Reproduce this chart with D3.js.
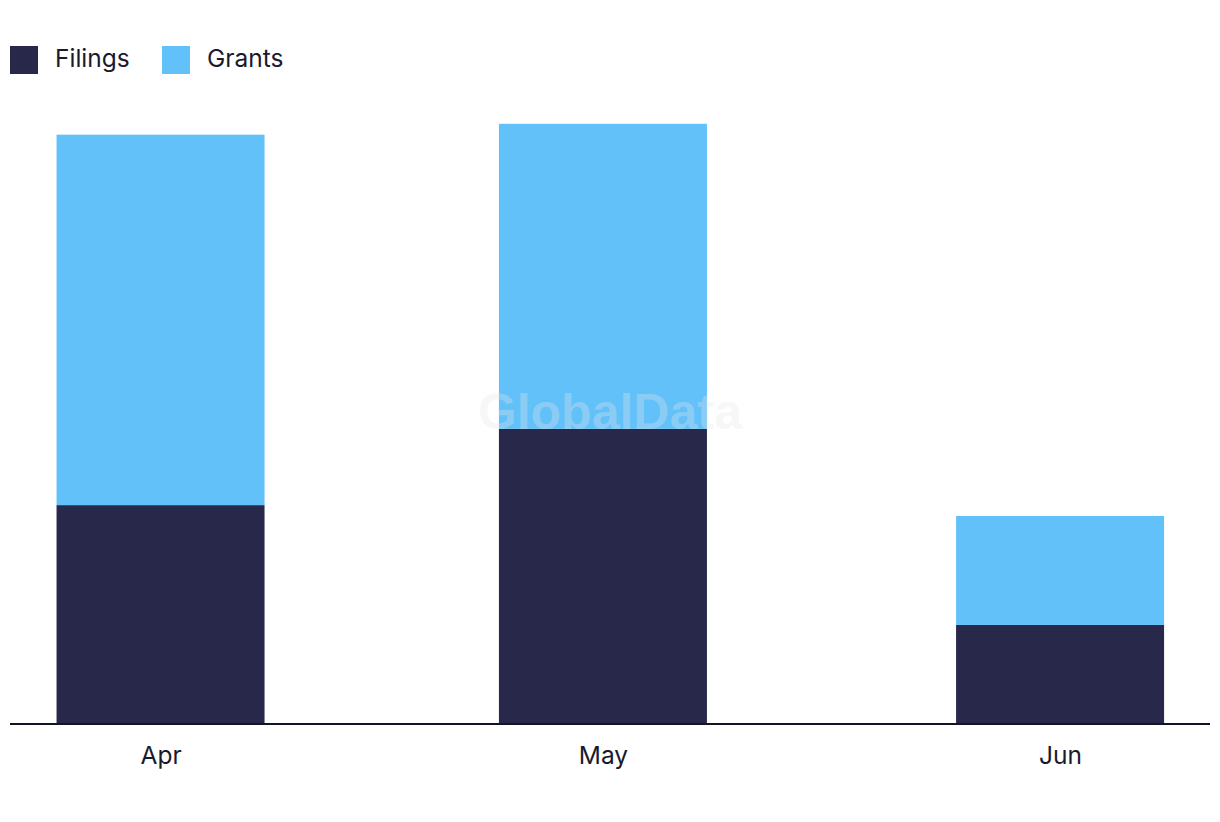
<!DOCTYPE html>
<html>
<head>
<meta charset="utf-8">
<script src="https://cdn.jsdelivr.net/npm/d3@7"></script>
<style>
  html, body { margin: 0; padding: 0; background: #fff; }
  svg { display: block; }
</style>
</head>
<body>
<svg id="chart" width="1220" height="822"></svg>
<script>
const months = ["2024-04-01", "2024-05-01", "2024-06-01"];
const monthLabels = ["Apr", "May", "Jun"];
const filings = [20, 27, 9];
const grants = [34, 28, 10];
const seriesNames = ["Filings", "Grants"];
const seriesColors = ["#27284a", "#62c1f9"];

const svg = d3.select("#chart");
const x0 = 10, x1 = 1210, baseY = 723, topY = 123.8;

const parse = d3.utcParse("%Y-%m-%d");
const dates = months.map(parse);
const padDays = 10.2;
const xScale = d3.scaleUtc()
  .domain([d3.utcHour.offset(dates[0], -padDays * 24), d3.utcHour.offset(dates[2], padDays * 24)])
  .range([x0, x1]);
const yScale = d3.scaleLinear().domain([0, 55]).range([baseY, topY]);

const data = months.map((m, i) => ({ date: dates[i], label: monthLabels[i], Filings: filings[i], Grants: grants[i] }));
const stack = d3.stack().keys(seriesNames)(data);
const barW = 208;

const g = svg.append("g");
stack.forEach((layer, li) => {
  g.selectAll(null).data(layer).enter().append("rect")
    .attr("x", d => xScale(d.data.date) - barW / 2)
    .attr("width", barW)
    .attr("y", d => yScale(d[1]))
    .attr("height", d => yScale(d[0]) - yScale(d[1]))
    .attr("fill", seriesColors[li]);
});

// watermark
svg.append("text")
  .attr("x", 610).attr("y", 429)
  .attr("text-anchor", "middle")
  .attr("font-family", "Liberation Sans, Arial, sans-serif")
  .attr("font-weight", "bold")
  .attr("font-size", 50)
  .attr("fill", "#e6e6e6")
  .attr("opacity", 0.3)
  .text("GlobalData");

// x axis
const xAxis = d3.axisBottom(xScale)
  .tickValues(dates)
  .tickFormat((d, i) => monthLabels[i])
  .tickSize(0)
  .tickPadding(0);
const ax = svg.append("g").attr("transform", `translate(0,${baseY})`).call(xAxis);
ax.select(".domain").attr("stroke", "#141428").attr("stroke-width", 2).attr("d", `M${x0},1H${x1}`);
ax.selectAll(".tick text")
  .attr("y", 41).attr("dy", null)
  .attr("font-family", "Inter, 'Noto Sans', sans-serif")
  .attr("font-size", 24.5)
  .attr("fill", "#1a1a2e");

// legend
const legend = svg.append("g").attr("transform", "translate(10,46)");
const legX = [0, 152];
seriesNames.forEach((name, i) => {
  const lg = legend.append("g").attr("transform", `translate(${legX[i]},0)`);
  lg.append("rect").attr("width", 28).attr("height", 28).attr("fill", seriesColors[i]);
  lg.append("text").attr("x", 45).attr("y", 20.5)
    .attr("font-family", "Inter, 'Noto Sans', sans-serif")
    .attr("font-size", 24.5)
    .attr("fill", "#1a1a2e")
    .text(name);
});
</script>
</body>
</html>
